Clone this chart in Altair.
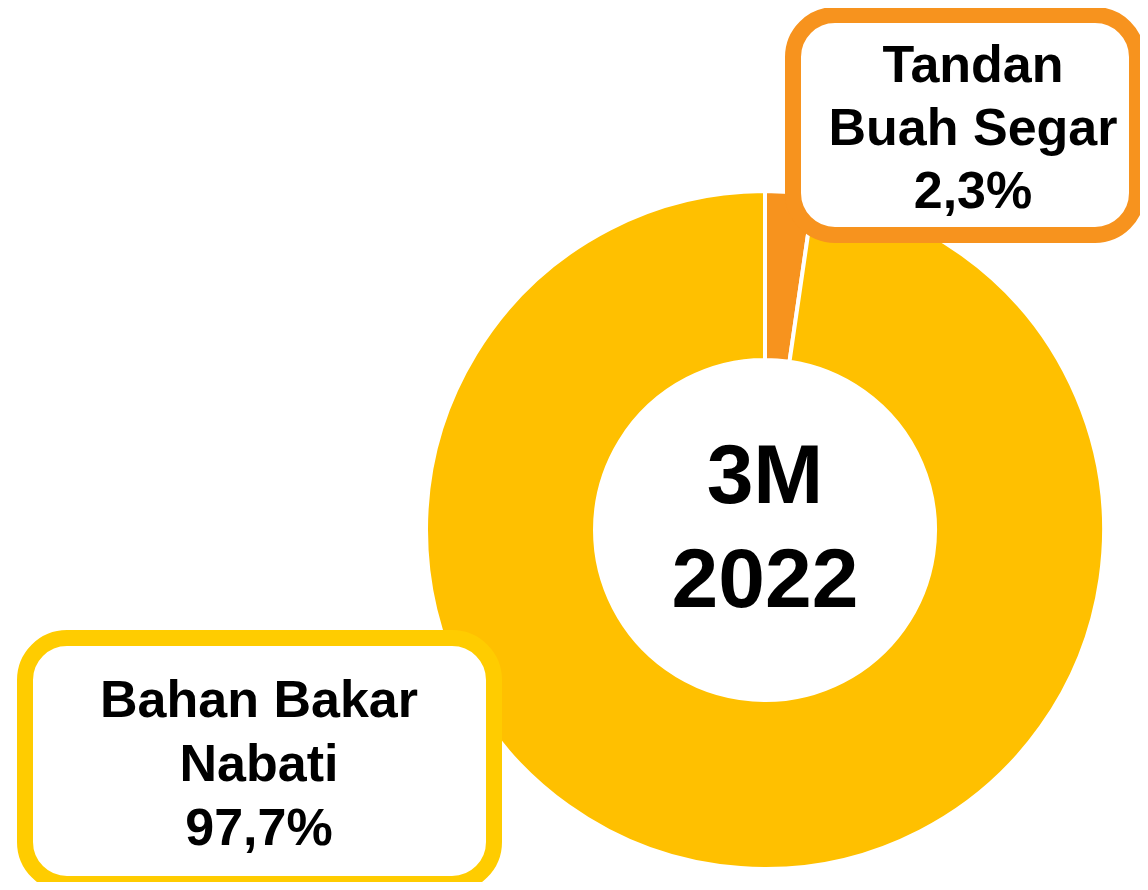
import altair as alt
import pandas as pd

# ---- data ----
categories = ["Tandan Buah Segar", "Bahan Bakar Nabati"]
shares = [2.3, 97.7]
label_lines_tbs = ["Tandan", "Buah Segar"]
label_lines_bbn = ["Bahan Bakar", "Nabati"]
center_lines = ["3M", "2022"]
colors = ["#F7931E", "#FFC000"]

def pct(v):
    return f"{v:.1f}".replace(".", ",") + "%"

df = pd.DataFrame({"category": categories, "share": shares, "idx": list(range(len(categories)))})

OX, OY = 8, 8  # page margin offset
FONT = "Liberation Sans"

def px(v):
    return alt.value(v - OX)

def py(v):
    return alt.value(v - OY)

donut = alt.Chart(df).mark_arc(
    innerRadius=170, outerRadius=339, stroke="white", strokeWidth=4
).encode(
    theta=alt.Theta("share:Q", stack=True),
    color=alt.Color("category:N", scale=alt.Scale(domain=categories, range=colors), legend=None),
    order=alt.Order("idx:Q"),
    x=px(765), y=py(530),
)

def box(x1, y1, x2, y2, color):
    return alt.Chart(df).transform_filter("datum.idx == 0").mark_rect(
        fill="white", stroke=color, strokeWidth=16, cornerRadius=42
    ).encode(x=px(x1), x2=px(x2), y=py(y1), y2=py(y2))

def line(txt, x, y, size):
    return alt.Chart(df).transform_filter("datum.idx == 0").mark_text(
        text=txt, font=FONT, fontWeight="bold", fontSize=size, color="black",
        align="center", baseline="alphabetic"
    ).encode(x=px(x), y=py(y))

orange_box = box(793, 15, 1137, 235, colors[0])
yellow_box = box(25, 638, 494, 884, "#FFCC00")

texts = [
    line(label_lines_tbs[0], 973, 82, 52),
    line(label_lines_tbs[1], 973, 145, 52),
    line(pct(shares[0]), 973, 208, 52),
    line(label_lines_bbn[0], 259, 717, 52),
    line(label_lines_bbn[1], 259, 781, 52),
    line(pct(shares[1]), 259, 845, 52),
    line(center_lines[0], 765, 503, 84),
    line(center_lines[1], 765, 607, 84),
]

chart = alt.layer(donut, orange_box, yellow_box, *texts).properties(
    width=1132, height=874, padding=0, background="white",
    autosize=alt.AutoSizeParams(type="none"),
).configure_view(stroke=None)

chart.save("out.html", embed_options={"renderer": "svg", "actions": False})
